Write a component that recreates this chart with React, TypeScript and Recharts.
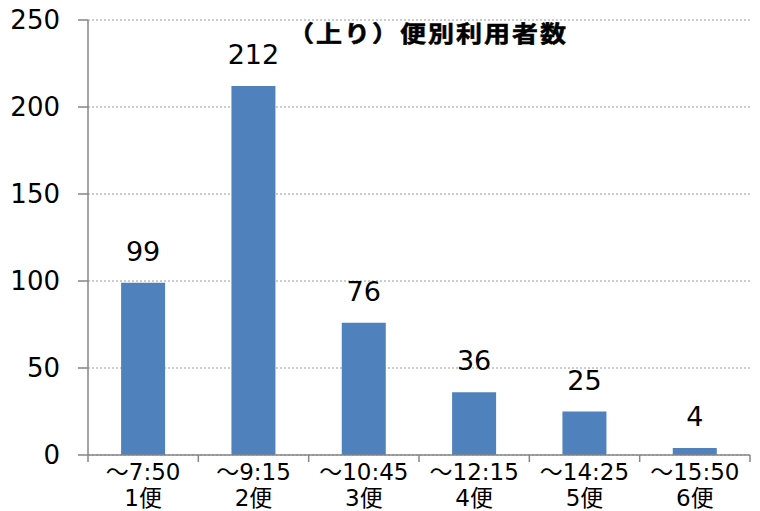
import React from "react";
import { BarChart, Bar, XAxis, YAxis, CartesianGrid, LabelList } from "recharts";

// Departure-time bands (upper line) and the flight number under each
const timeLabels = ["～7:50", "～9:15", "～10:45", "～12:15", "～14:25", "～15:50"];
const flightLabels = ["1便", "2便", "3便", "4便", "5便", "6便"];
// Passengers per flight
const riders = [99, 212, 76, 36, 25, 4];
const yTicks = [0, 50, 100, 150, 200, 250];

const data = timeLabels.map((t, i) => ({ key: flightLabels[i], time: t, flight: flightLabels[i], value: riders[i] }));

const W = 760;
const H = 511;
const AXIS = "#868686";
const NUM_FONT = "'DejaVu Sans', Verdana, 'Noto Sans CJK JP', sans-serif";
const JP_FONT = "'Noto Sans CJK JP', 'DejaVu Sans', sans-serif";

const MARGIN = { top: 20, right: 10, bottom: 0, left: 0 };
const Y_WIDTH = 88;
const X_HEIGHT = 56;

const XTick = (props: any) => {
  const { x, y, payload, index } = props;
  const plotW = W - MARGIN.left - MARGIN.right - Y_WIDTH;
  const half = plotW / data.length / 2;
  const row = data[index] ?? data.find((d) => d.key === payload.value);
  return (
    <g>
      <line x1={x - half} x2={x - half} y1={y} y2={y + 7} stroke={AXIS} strokeWidth={1.5} />
      {index === data.length - 1 && (
        <line x1={x + half} x2={x + half} y1={y} y2={y + 7} stroke={AXIS} strokeWidth={1.5} />
      )}
      <text x={x} y={y + 25} textAnchor="middle" fontSize={23} fill="#000" fontFamily={NUM_FONT}>
        {row?.time}
      </text>
      <text x={x} y={y + 51} textAnchor="middle" fontSize={23} fill="#000" fontFamily={NUM_FONT}>
        {row?.flight}
      </text>
    </g>
  );
};

export default function App() {
  return (
    <div style={{ position: "absolute", left: 0, top: 0, width: W, height: H, background: "#fff" }}>
      <BarChart width={W} height={H} data={data} margin={MARGIN} barCategoryGap="30%">
        <CartesianGrid horizontal vertical={false} stroke="#9a9a9a" strokeDasharray="2 2" strokeWidth={1.2} />
        <XAxis
          dataKey="key"
          height={X_HEIGHT}
          interval={0}
          tickLine={false}
          tickSize={0}
          tickMargin={0}
          axisLine={{ stroke: AXIS, strokeWidth: 1.5 }}
          tick={<XTick />}
        />
        <YAxis
          width={Y_WIDTH}
          domain={[0, 250]}
          ticks={yTicks}
          interval={0}
          tickSize={10}
          tickMargin={18}
          axisLine={{ stroke: AXIS, strokeWidth: 1.5 }}
          tickLine={{ stroke: AXIS, strokeWidth: 1.5 }}
          tick={{ fill: "#000", fontSize: 26, fontFamily: NUM_FONT }}
        />
        <Bar dataKey="value" fill="#4f81bd" isAnimationActive={false}>
          <LabelList dataKey="value" position="top" offset={22} fill="#000" fontSize={27} fontFamily={NUM_FONT} />
        </Bar>
      </BarChart>
      <div
        style={{
          position: "absolute",
          left: 0,
          width: 856,
          top: 16,
          textAlign: "center",
          fontFamily: JP_FONT,
          fontWeight: 700,
          fontSize: 26,
          letterSpacing: 2,
          lineHeight: "32px",
          color: "#000",
          whiteSpace: "nowrap",
          transform: "scaleY(0.88)",
          WebkitTextStroke: "0.6px #000",
        }}
      >
        （上り）便別利用者数
      </div>
    </div>
  );
}
